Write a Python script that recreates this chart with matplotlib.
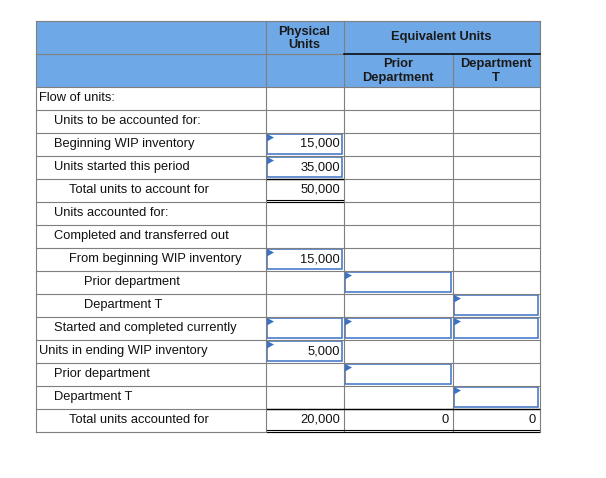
import matplotlib.pyplot as plt
from matplotlib.patches import Rectangle, Polygon

plt.rcParams["font.family"] = ["Liberation Sans", "DejaVu Sans"]

labels = [
    "Flow of units:",
    "Units to be accounted for:",
    "Beginning WIP inventory",
    "Units started this period",
    "Total units to account for",
    "Units accounted for:",
    "Completed and transferred out",
    "From beginning WIP inventory",
    "Prior department",
    "Department T",
    "Started and completed currently",
    "Units in ending WIP inventory",
    "Prior department",
    "Department T",
    "Total units accounted for",
]
indent = [0, 1, 1, 1, 2, 1, 1, 2, 3, 3, 1, 0, 1, 1, 2]
physical_units = [None, None, 15000, 35000, 50000, None, None, 15000, None, None, None, 5000, None, None, 20000]
prior_department = [None] * 14 + [0]
department_t = [None] * 14 + [0]
# (row, column) of the blue input cells
input_cells = [(2, 1), (3, 1), (7, 1), (8, 2), (9, 3), (10, 1), (10, 2), (10, 3),
               (11, 1), (12, 2), (13, 3)]

col_x = [35.5, 265.5, 343.5, 452.5, 539.5]
head_y = [20.5, 53.5, 86.5]
row_h = 23.0
n = len(labels)
row_y = [head_y[2] + i * row_h for i in range(n + 1)]

header_blue = "#6fa8e6"
grid_grey = "#7f7f7f"
input_blue = "#3a72c4"
fs = 9.3

fig = plt.figure(figsize=(6.06, 4.78), dpi=100)
ax = fig.add_axes([0, 0, 1, 1])
ax.set_xlim(0, 606)
ax.set_ylim(478, 0)
ax.axis("off")

# header background
ax.add_patch(Rectangle((col_x[0], head_y[0]), col_x[-1] - col_x[0], head_y[2] - head_y[0],
                       facecolor=header_blue, edgecolor="none"))

# grid
for j, x in enumerate(col_x):
    top = head_y[1] if j == 3 else head_y[0]
    ax.plot([x, x], [top, row_y[-1]], color=grid_grey, lw=0.8)
for y in [head_y[0]] + row_y:
    ax.plot([col_x[0], col_x[-1]], [y, y], color=grid_grey, lw=0.8)
ax.plot([col_x[0], col_x[2]], [head_y[1]] * 2, color=grid_grey, lw=0.8)
ax.plot([col_x[2], col_x[4]], [head_y[1]] * 2, color="black", lw=1.1)

# header text
hk = dict(ha="center", va="center", fontsize=fs, fontweight="bold", color="#1a1a1a", linespacing=1.2)
ax.text((col_x[1] + col_x[2]) / 2, (head_y[0] + head_y[1]) / 2 + 1.5, "Physical\nUnits", **hk)
ax.text((col_x[2] + col_x[4]) / 2, (head_y[0] + head_y[1]) / 2, "Equivalent Units", **hk)
ax.text((col_x[2] + col_x[3]) / 2, (head_y[1] + head_y[2]) / 2 + 1, "Prior\nDepartment", **hk)
ax.text((col_x[3] + col_x[4]) / 2, (head_y[1] + head_y[2]) / 2 + 1, "Department\nT", **hk)

# input boxes
for r, c in input_cells:
    x0, x1 = col_x[c] + 1.5, col_x[c + 1] - 1.5
    y0, y1 = row_y[r] + 1.5, row_y[r + 1] - 1.5
    ax.add_patch(Rectangle((x0, y0), x1 - x0, y1 - y0, facecolor="white",
                           edgecolor=input_blue, lw=1.1))
    ax.add_patch(Polygon([(x0, y0), (x0 + 7, y0 + 3.5), (x0, y0 + 7.5)],
                         closed=True, facecolor=input_blue, edgecolor="none"))

# row labels and values
columns = [physical_units, prior_department, department_t]
for i, lab in enumerate(labels):
    yc = (row_y[i] + row_y[i + 1]) / 2
    ax.text(39 + 15 * indent[i], yc, lab, ha="left", va="center", fontsize=fs, color="#111111")
    for c, vals in enumerate(columns, start=1):
        if vals[i] is not None:
            ax.text(col_x[c + 1] - 3.5, yc, f"{vals[i]:,}", ha="right", va="center",
                    fontsize=fs, color="#111111")

# total rules: single line above, double line below
def total_rules(r, c0, c1):
    xs = [col_x[c0] + 1, col_x[c1] - 1]
    ax.plot(xs, [row_y[r]] * 2, color="black", lw=1.0)
    ax.plot(xs, [row_y[r + 1] - 1.8] * 2, color="black", lw=0.8)
    ax.plot(xs, [row_y[r + 1] + 0.2] * 2, color="black", lw=0.8)

total_rules(4, 1, 2)
total_rules(14, 1, 4)

fig.savefig("out.png", dpi=100, facecolor="white")
